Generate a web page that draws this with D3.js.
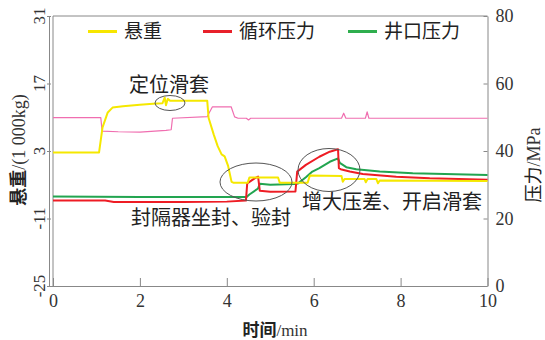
<!DOCTYPE html>
<html lang="zh">
<head>
<meta charset="utf-8">
<title>悬重与压力</title>
<script src="https://d3js.org/d3.v7.min.js"></script>
<style>
body { margin: 0; background: #fff; }
.num { font-family: "Liberation Serif", "DejaVu Serif", serif; fill: #333; }
.cjk { font-family: "Noto Sans CJK SC", "Noto Sans", sans-serif; fill: #222; }
</style>
</head>
<body>
<script>
// ---------- data (time in min) ----------
var xTicks = [0, 2, 4, 6, 8, 10];
var leftTicks = [-25, -11, 3, 17, 31];
var rightTicks = [0, 20, 40, 60, 80];

// 悬重, 1000 kg, left axis
var hook = [[0,2.7],[1.06,2.7],[1.14,7.9],[1.26,11.0],[1.37,12.0],[1.61,12.3],[2.0,12.6],[2.3,12.8],
  [2.52,12.9],[2.57,14.1],[2.60,12.5],[2.64,13.8],[2.70,13.4],[3.55,13.4],[3.58,9.9],[3.70,6.4],
  [3.79,4.0],[3.88,2.3],[3.95,1.9],[4.03,-0.1],[4.11,-3.4],[4.16,-3.6],[4.48,-3.6],[4.52,-2.5],
  [5.18,-2.5],[5.22,-3.6],[5.86,-3.6],[5.91,-2.1],[6.64,-2.2],[6.67,-3.4],[6.71,-2.8],[7.17,-2.8],
  [7.20,-3.5],[7.24,-2.8],[7.44,-2.8],[7.48,-3.7],[7.52,-3.1],[10,-3.2]];
// 循环压力, MPa, right axis
var circ = [[0,25.3],[1.2,25.3],[1.4,24.9],[3.0,24.9],[4.0,25.0],[4.44,25.3],[4.47,30.4],[4.64,31.9],
  [4.72,32.4],[4.76,28.2],[5.0,27.9],[5.58,28.0],[5.62,33.9],[5.82,35.9],[6.13,38.3],[6.37,39.8],
  [6.56,40.5],[6.58,34.9],[6.62,34.6],[6.83,33.9],[7.13,33.2],[7.9,32.4],[8.67,31.9],[10,31.5]];
// 井口压力, MPa, right axis
var well = [[0,26.5],[2,26.4],[4.4,26.4],[4.45,26.3],[4.52,27.1],[4.72,28.9],[4.76,30.3],[5.0,30.0],
  [5.56,30.2],[5.64,30.4],[5.82,32.2],[5.97,33.9],[6.13,34.9],[6.37,36.8],[6.56,37.8],[6.60,36.5],
  [6.75,35.2],[6.98,34.6],[7.52,33.9],[8.28,33.4],[10,32.9]];
// unlabeled pink trace, MPa, right axis
var pink = [[0,49.9],[1.10,49.9],[1.13,45.9],[1.5,45.7],[2.0,45.6],[2.6,46.1],[2.72,46.3],[2.75,49.7],
  [3.55,50.2],[3.67,53.1],[4.10,53.1],[4.18,50.1],[4.26,49.7],[4.45,49.7],[4.5,49.2],[4.55,49.7],
  [6.64,49.7],[6.69,51.2],[6.74,49.7],[7.19,49.7],[7.23,51.6],[7.27,49.7],[10,49.7]];

var legendNames = ["悬重", "循环压力", "井口压力"];
var legendColors = ["#f7e600", "#e8202a", "#2fae4e"];

// ---------- layout ----------
var width = 545, height = 340;
var x = d3.scaleLinear().domain([0, 10]).range([53, 487.5]);
var yL = d3.scaleLinear().domain([-25, 31]).range([286, 16]);
var yR = d3.scaleLinear().domain([0, 80]).range([286, 16]);

var svg = d3.select("body").append("svg")
  .attr("width", width).attr("height", height);

var axisColor = "#888";

// frame
svg.append("line").attr("x1", 53).attr("x2", 487.5).attr("y1", 16).attr("y2", 16)
  .attr("stroke", axisColor);
svg.append("line").attr("x1", 53).attr("x2", 53).attr("y1", 16).attr("y2", 286)
  .attr("stroke", axisColor);

// bottom axis
var gx = svg.append("g").attr("transform", "translate(0,286)")
  .call(d3.axisBottom(x).tickValues(xTicks).tickSizeInner(-8).tickSizeOuter(0).tickPadding(8));
gx.select(".domain").attr("d", "M49,0.5H487.5");
gx.selectAll("line").attr("stroke", axisColor);
gx.selectAll("text").attr("class", "num").style("font-size", "18px").attr("fill", "#333");
gx.select(".domain").attr("stroke", axisColor);

// right axis
var gr = svg.append("g").attr("transform", "translate(487.5,0)")
  .call(d3.axisRight(yR).tickValues(rightTicks).tickSizeInner(-4).tickSizeOuter(0).tickPadding(8));
gr.selectAll("line, .domain").attr("stroke", axisColor);
gr.selectAll("text").attr("class", "num").style("font-size", "18px").attr("fill", "#333");

// left axis (outer line, rotated labels)
var gl = svg.append("g").attr("transform", "translate(49,0)")
  .call(d3.axisLeft(yL).tickValues(leftTicks).tickSizeInner(2).tickSizeOuter(0).tickFormat(""));
gl.selectAll("line, .domain").attr("stroke", axisColor);
gl.selectAll(".tick line").attr("x2", 2).attr("x1", -2);
svg.selectAll(".ltick").data(leftTicks).enter().append("text")
  .attr("class", "num")
  .style("font-size", "17px")
  .attr("text-anchor", "middle")
  .attr("transform", function(d) { return "translate(45," + yL(d) + ") rotate(-90)"; })
  .text(function(d) { return d; });

// axis titles
var tx = svg.append("text").attr("x", 275).attr("y", 336).attr("text-anchor", "middle")
  .style("font-size", "17px");
tx.append("tspan").attr("class", "cjk").style("font-weight", "bold").text("时间");
tx.append("tspan").attr("class", "num").attr("fill", "#222").text("/min");

var tl = svg.append("text").attr("text-anchor", "middle")
  .attr("transform", "translate(25,150) rotate(-90)").style("font-size", "18px");
tl.append("tspan").attr("class", "cjk").style("font-weight", "bold").text("悬重");
tl.append("tspan").attr("class", "num").attr("fill", "#222").text("/(1 000kg)");

var tr = svg.append("text").attr("text-anchor", "middle")
  .attr("transform", "translate(540,165) rotate(-90)").style("font-size", "18px");
tr.append("tspan").attr("class", "cjk").text("压力");
tr.append("tspan").attr("class", "num").attr("fill", "#222").text("/MPa");

// series
function drawLine(data, yScale, color, w) {
  var line = d3.line()
    .x(function(d) { return x(d[0]); })
    .y(function(d) { return yScale(d[1]); });
  svg.append("path").datum(data)
    .attr("d", line)
    .attr("fill", "none")
    .attr("stroke", color)
    .attr("stroke-width", w)
    .attr("stroke-linejoin", "round");
}
drawLine(pink, yR, "#f06eb0", 1.2);
drawLine(well, yR, "#22a550", 2);
drawLine(circ, yR, "#ee1c24", 2);
drawLine(hook, yL, "#f5e800", 2);

// legend
var legX = [88, 203, 348];
legendNames.forEach(function(name, i) {
  svg.append("line").attr("x1", legX[i]).attr("x2", legX[i] + 29)
    .attr("y1", 31.5).attr("y2", 31.5)
    .attr("stroke", legendColors[i]).attr("stroke-width", 3);
  svg.append("text").attr("class", "cjk").attr("x", legX[i] + 36).attr("y", 38)
    .style("font-size", "19px").text(name);
});

// annotations
var notes = [
  {t: "定位滑套", x: 169, y: 92},
  {t: "封隔器坐封、验封", x: 211, y: 225},
  {t: "增大压差、开启滑套", x: 392, y: 209}
];
svg.selectAll(".note").data(notes).enter().append("text")
  .attr("class", "cjk").attr("text-anchor", "middle")
  .attr("x", function(d) { return d.x; }).attr("y", function(d) { return d.y; })
  .style("font-size", "20px")
  .text(function(d) { return d.t; });

var rings = [
  {cx: 170, cy: 103, rx: 15, ry: 7.5},
  {cx: 256, cy: 182, rx: 36, ry: 19},
  {cx: 329, cy: 170, rx: 31, ry: 21.5}
];
svg.selectAll(".ring").data(rings).enter().append("ellipse")
  .attr("cx", function(d) { return d.cx; }).attr("cy", function(d) { return d.cy; })
  .attr("rx", function(d) { return d.rx; }).attr("ry", function(d) { return d.ry; })
  .attr("fill", "none").attr("stroke", "#555").attr("stroke-width", 1);
</script>
</body>
</html>
